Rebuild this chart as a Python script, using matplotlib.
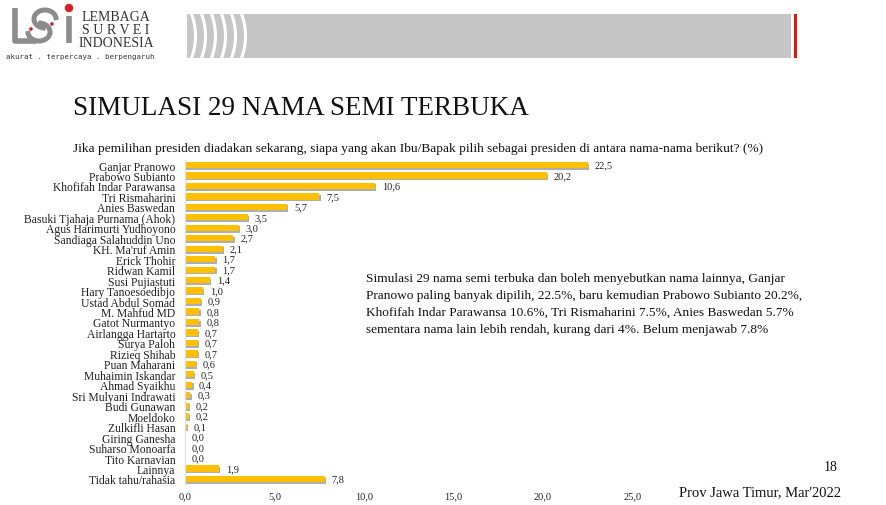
import matplotlib
matplotlib.use("Agg")
import matplotlib.pyplot as plt
import matplotlib.patheffects as pe
from matplotlib.patches import Rectangle, Circle
import numpy as np

names = ["Ganjar Pranowo", "Prabowo Subianto", "Khofifah Indar Parawansa", "Tri Rismaharini",
         "Anies Baswedan", "Basuki Tjahaja Purnama (Ahok)", "Agus Harimurti Yudhoyono",
         "Sandiaga Salahuddin Uno", "KH. Ma'ruf Amin", "Erick Thohir", "Ridwan Kamil",
         "Susi Pujiastuti", "Hary Tanoesoedibjo", "Ustad Abdul Somad", "M. Mahfud MD",
         "Gatot Nurmantyo", "Airlangga Hartarto", "Surya Paloh", "Rizieq Shihab",
         "Puan Maharani", "Muhaimin Iskandar", "Ahmad Syaikhu", "Sri Mulyani Indrawati",
         "Budi Gunawan", "Moeldoko", "Zulkifli Hasan", "Giring Ganesha", "Suharso Monoarfa",
         "Tito Karnavian", "Lainnya", "Tidak tahu/rahasia"]
values = [22.5, 20.2, 10.6, 7.5, 5.7, 3.5, 3.0, 2.7, 2.1, 1.7, 1.7, 1.4, 1.0, 0.9, 0.8,
          0.8, 0.7, 0.7, 0.7, 0.6, 0.5, 0.4, 0.3, 0.2, 0.2, 0.1, 0.0, 0.0, 0.0, 1.9, 7.8]
xticks = [0, 5, 10, 15, 20, 25]

title = "SIMULASI 29 NAMA SEMI TERBUKA"
subtitle = ("Jika pemilihan presiden diadakan sekarang, siapa yang akan Ibu/Bapak pilih "
            "sebagai presiden di antara nama-nama berikut? (%)")
note = ("Simulasi 29 nama semi terbuka dan boleh menyebutkan nama lainnya, Ganjar\n"
        "Pranowo paling banyak dipilih, 22.5%, baru kemudian Prabowo Subianto 20.2%,\n"
        "Khofifah Indar Parawansa 10.6%, Tri Rismaharini 7.5%, Anies Baswedan 5.7%\n"
        "sementara nama lain lebih rendah, kurang dari 4%. Belum menjawab 7.8%")
page = "18"
source = "Prov Jawa Timur, Mar'2022"

plt.rcParams['font.family'] = ['Liberation Serif', 'DejaVu Serif']

W, H = 887, 506
fig = plt.figure(figsize=(W / 100, H / 100), dpi=100)

# overlay axes in pixel coordinates for decorations
ov = fig.add_axes([0, 0, 1, 1])
ov.set_xlim(0, W)
ov.set_ylim(H, 0)
ov.axis("off")

# header bar
gray = "#c6c6c6"
ov.add_patch(Rectangle((187, 15), 791 - 187, 44, color=gray, lw=0))
ov.add_patch(Rectangle((794, 15), 3.5, 44, color="#ee1111", lw=0))
tt = np.linspace(-1, 1, 50)
for xs in [195.5, 205.5, 215.5, 225.5, 235.5, 245.5]:
    ov.plot(xs - 4 + 4 * (1 - tt ** 2), 37 + 22 * tt, color="white", lw=2.2,
            solid_capstyle="butt")

# logo
lg = "#8c8c8c"
ov.plot([15, 15, 36], [9, 42, 42], color=lg, lw=4, solid_capstyle="butt")
th = np.linspace(0.55 * np.pi, 1.95 * np.pi, 60)
ov.plot(45 + 11 * np.cos(th), 20 + 9 * np.sin(th), color=lg, lw=3.6)
th2 = np.linspace(-0.45 * np.pi, 0.95 * np.pi, 60)
ov.plot(39 + 11 * np.cos(th2), 33 + 9 * np.sin(th2), color=lg, lw=3.6)
ov.plot([69, 69], [17, 44], color=lg, lw=4, solid_capstyle="butt")
ov.add_patch(Circle((69, 9), 3.5, color="#e31b23"))
ov.add_patch(Circle((31, 30), 1.1, color="#e31b23"))
ov.add_patch(Circle((52, 25), 1.1, color="#e31b23"))
ov.text(116, 17, "LEMBAGA", fontsize=10, ha="center", va="center", color="#333333")
ov.text(116, 30, "S U R V E I", fontsize=10, ha="center", va="center", color="#333333")
ov.text(116, 43, "INDONESIA", fontsize=10, ha="center", va="center", color="#333333")
ov.text(80, 57, "akurat . terpercaya . berpengaruh", fontsize=5.3, ha="center",
        va="center", color="#333333", family="DejaVu Sans Mono")

# titles
ov.text(73, 108, title, fontsize=19.5, ha="left", va="center", color="#111111")
ov.text(73, 149, subtitle, fontsize=9.6, ha="left", va="center", color="#111111")
ov.text(366, 304.5, note, fontsize=9.6, ha="left", va="center", color="#111111",
        linespacing=1.55)
ov.text(838, 468, page, fontsize=10, ha="right", va="center", color="#111111")
ov.text(841, 493, source, fontsize=10.5, ha="right", va="center", color="#111111")

# bar chart
n = len(names)
top_px, row = 166, (480 - 166) / (n - 1)
ax_top = top_px - row / 2
ax_bot = 480 + row / 2
x0, ppu = 185, 17.9
ax = fig.add_axes([x0 / W, 1 - ax_bot / H, 30 * ppu / W, (ax_bot - ax_top) / H])
y = np.arange(n)
bars = ax.barh(y, values, height=0.6, color="#FFC000", edgecolor="none")
for b in bars:
    b.set_path_effects([pe.SimplePatchShadow(offset=(1, -1.2), shadow_rgbFace="#9a9a9a",
                                             alpha=0.8), pe.Normal()])
for yi, v in zip(y, values):
    ax.annotate(f"{v:.1f}".replace(".", ","), (v, yi), xytext=(5, 0),
                textcoords="offset points", ha="left", va="center", fontsize=7.5,
                color="#222222")
ax.set_xlim(0, 30)
ax.set_ylim(n - 0.5, -0.5)
ax.set_yticks(y)
ax.set_yticklabels(names, fontsize=8.4, color="#222222")
ax.set_xticks(xticks)
ax.set_xticklabels([f"{t:.1f}".replace(".", ",") for t in xticks], fontsize=7.5,
                   color="#222222")
ax.tick_params(axis="both", length=0)
ax.tick_params(axis="y", pad=7)
ax.tick_params(axis="x", pad=5)
for s in ["top", "right", "bottom"]:
    ax.spines[s].set_visible(False)
ax.spines["left"].set_color("#e0e0e0")
ax.spines["left"].set_linewidth(0.8)
ax.patch.set_alpha(0)

fig.savefig("out.png", dpi=100)
